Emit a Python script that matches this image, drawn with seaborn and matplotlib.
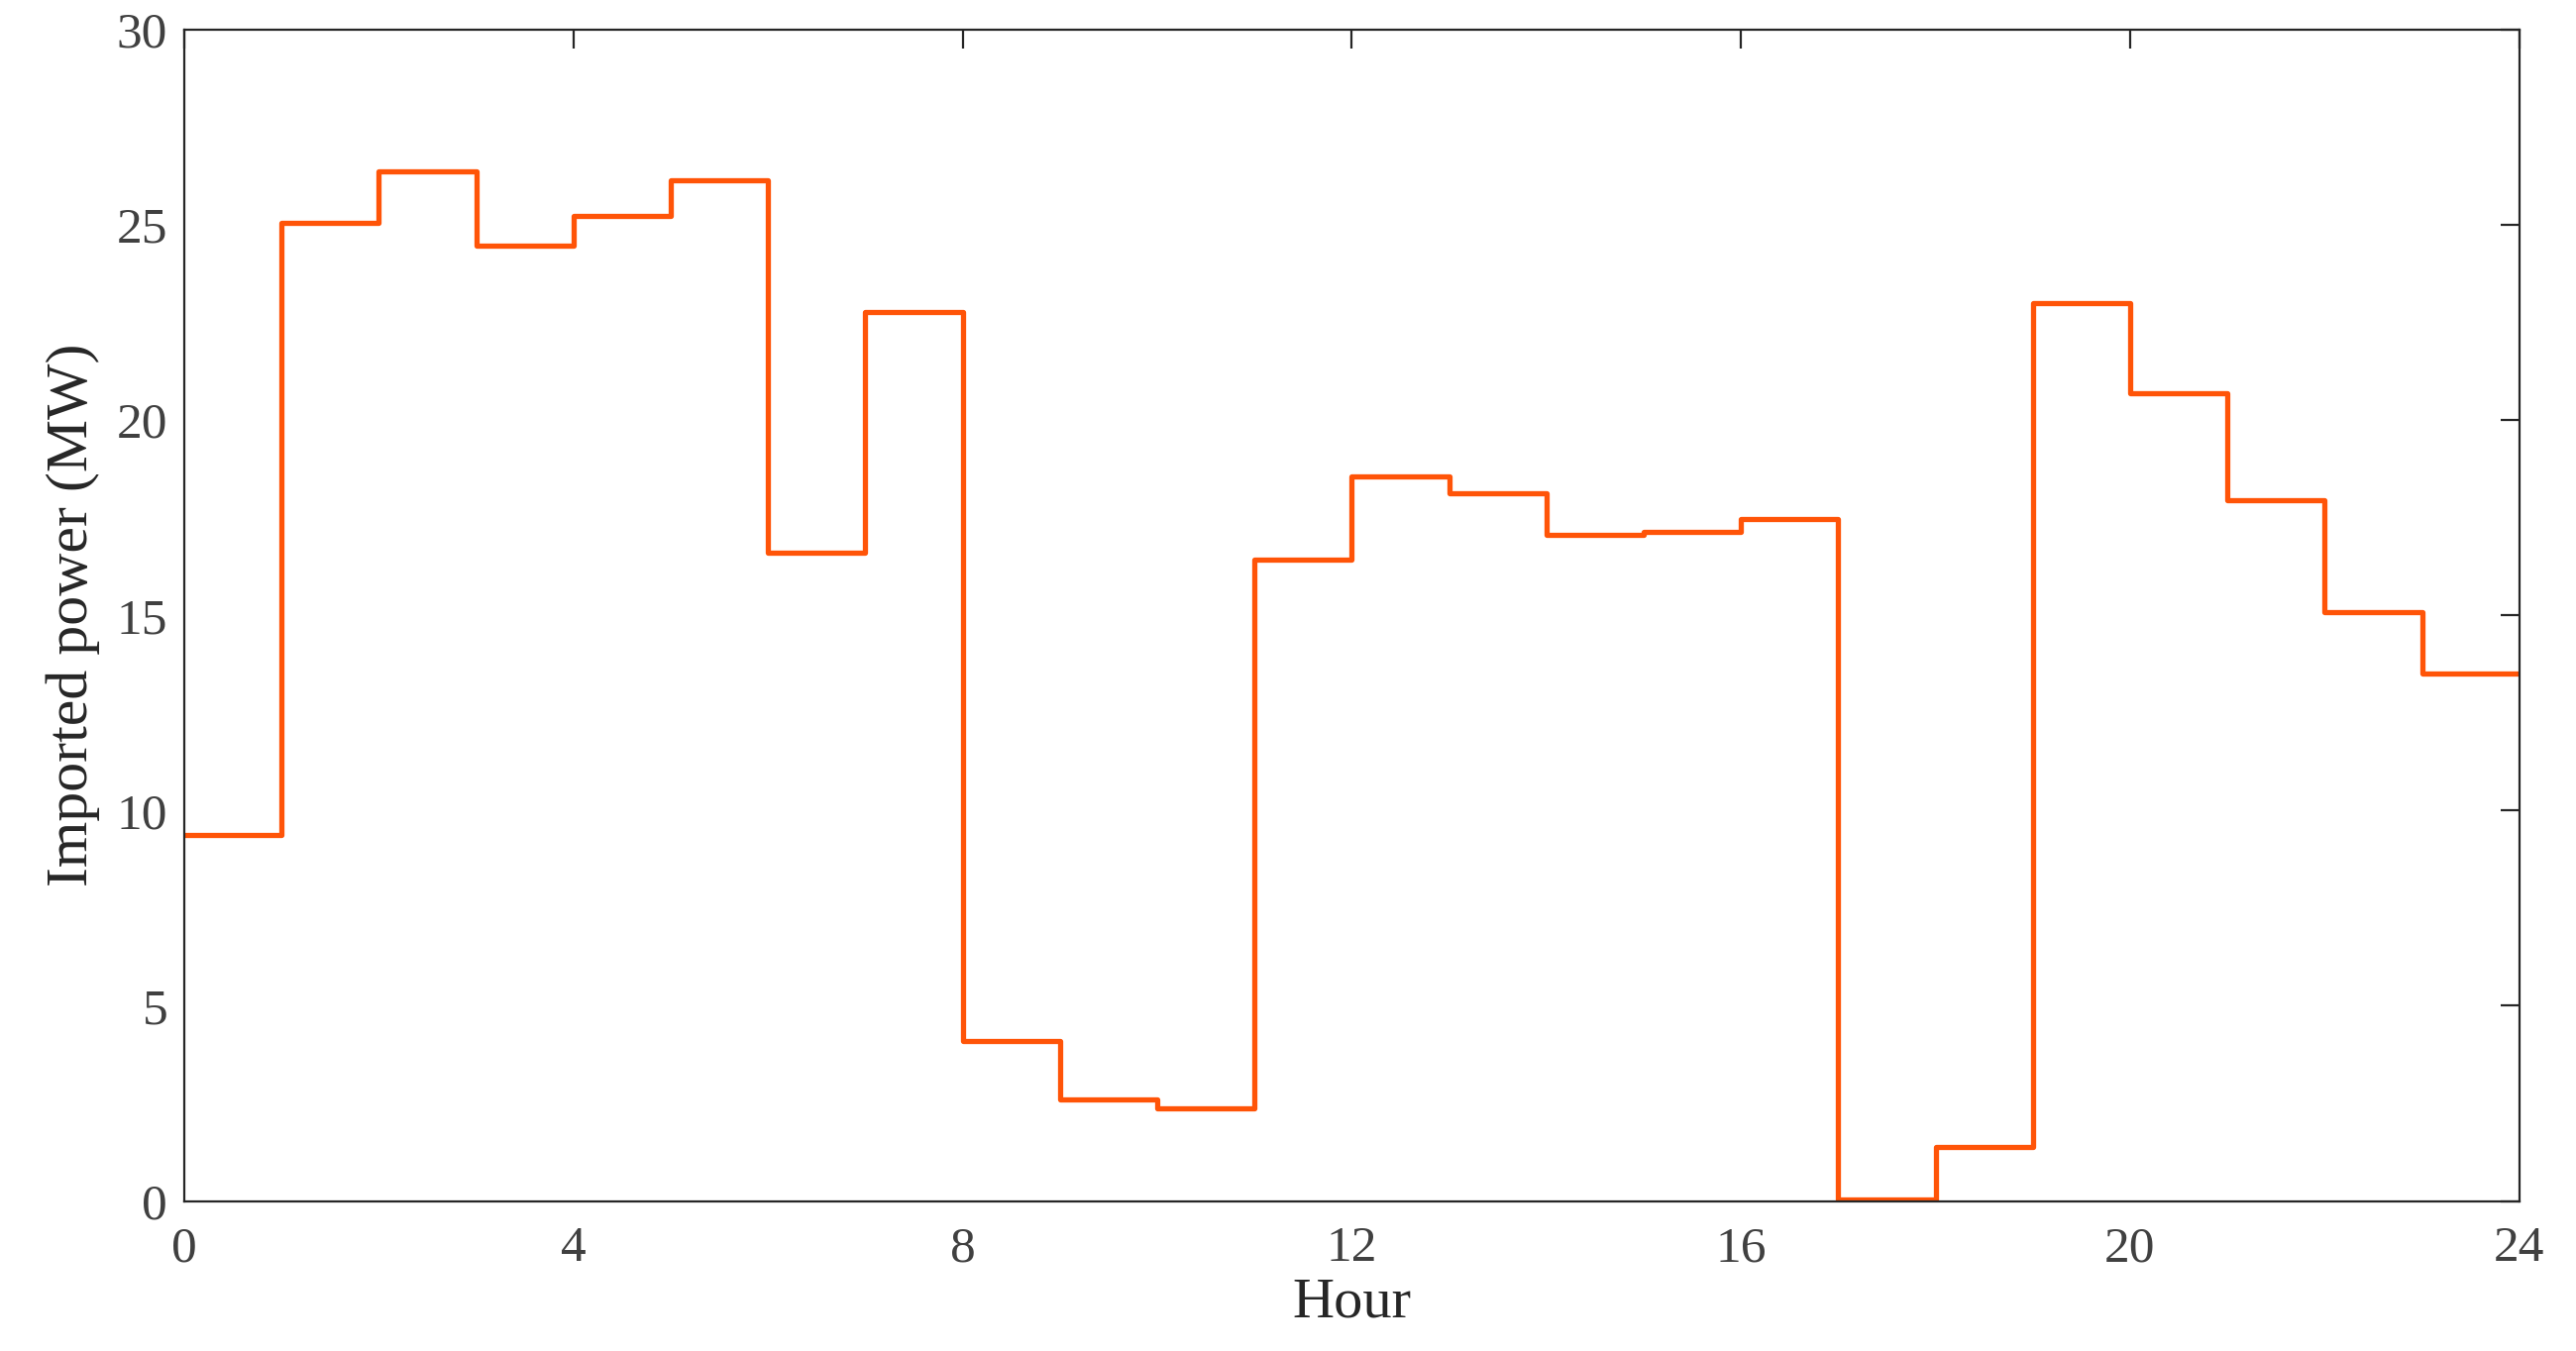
import numpy as np
import pandas as pd
import seaborn as sns
import matplotlib
matplotlib.use('Agg')
import matplotlib.pyplot as plt

# hourly imported power (MW), one value per hour 0..23
hours = list(range(24))
imported_mw = [9.38, 25.06, 26.37, 24.46, 25.24, 26.15, 16.61, 22.78,
               4.09, 2.60, 2.38, 16.43, 18.56, 18.14, 17.06, 17.13,
               17.48, 0.03, 1.39, 22.99, 20.70, 17.96, 15.08, 13.51]
x_ticks = [0, 4, 8, 12, 16, 20, 24]
y_ticks = [0, 5, 10, 15, 20, 25, 30]

# repeat last hour so the step runs to hour 24
df = pd.DataFrame({'Hour': hours + [24], 'Power': imported_mw + [imported_mw[-1]]})

sns.set_style('white')
plt.rcParams['font.family'] = ['Liberation Serif', 'DejaVu Serif']

fig, ax = plt.subplots(figsize=(13, 6.82), dpi=200)
fig.subplots_adjust(left=0.0715, right=0.978, top=0.978, bottom=0.111)

sns.lineplot(data=df, x='Hour', y='Power', drawstyle='steps-post',
             color='#ff5408', linewidth=1.9, ax=ax)

ax.set_xlim(0, 24)
ax.set_ylim(0, 30)
ax.set_xticks(x_ticks)
ax.set_yticks(y_ticks)
ax.tick_params(direction='in', length=7, width=0.8, colors='#262626',
               labelcolor='#404040', labelsize=18.5, top=True, right=True, pad=6)
ax.tick_params(axis='x', pad=9)
for s in ax.spines.values():
    s.set_visible(True)
    s.set_color('#262626')
    s.set_linewidth(0.8)
ax.set_xlabel('Hour', fontsize=21, color='#262626', labelpad=2)
ax.set_ylabel('Imported power (MW)', fontsize=21.5, color='#262626', labelpad=6)

plt.savefig('out.png', dpi=200)
